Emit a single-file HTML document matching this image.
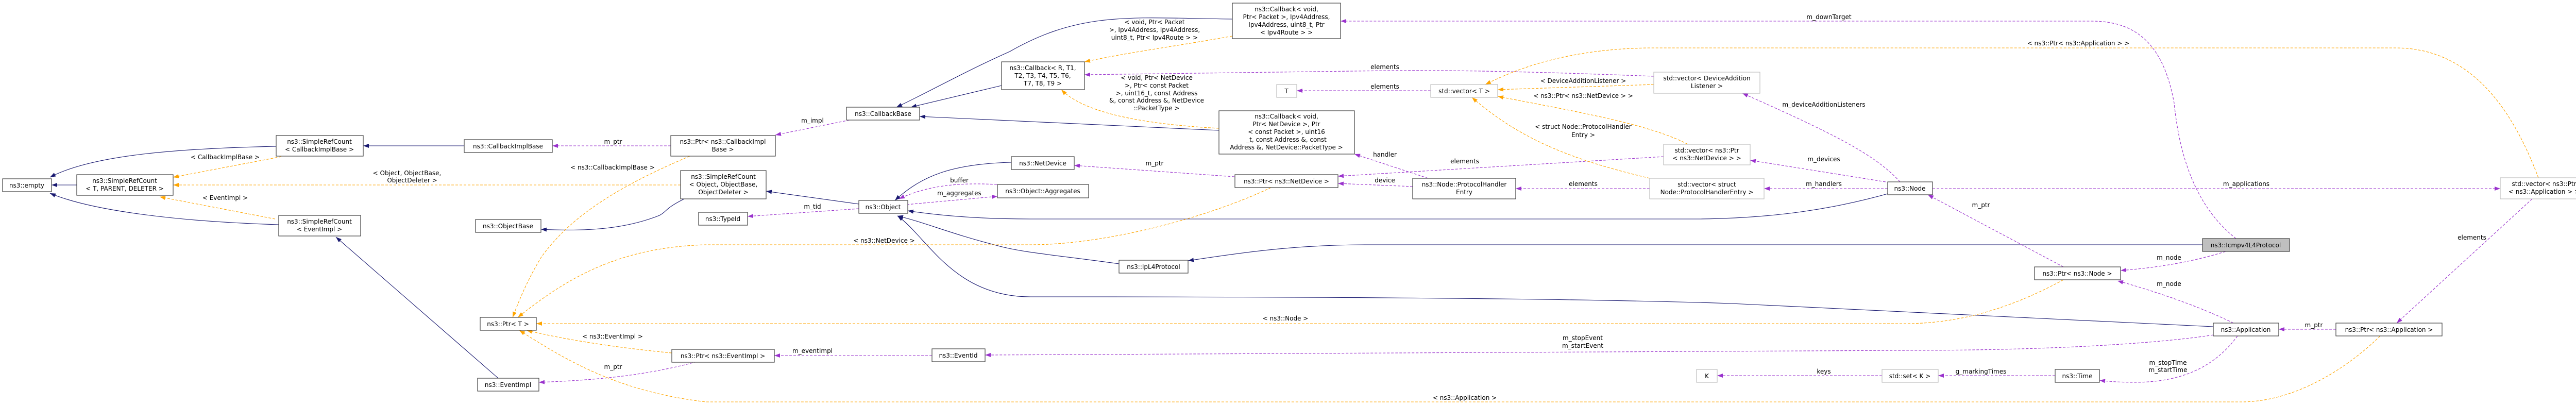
<!DOCTYPE html>
<html><head><meta charset="utf-8"><style>
html,body{margin:0;padding:0;background:#fff;}
svg{display:block;}
text{font-family:"DejaVu Sans","Liberation Sans",sans-serif;font-size:12px;fill:#000;}
.n{fill:#fff;stroke:#404040;stroke-width:1.2;}
.g{fill:#fff;stroke:#bfbfbf;stroke-width:1.2;}
.b{fill:none;stroke:#191970;stroke-width:1.1;}
.p{fill:none;stroke:#9a32cd;stroke-width:1.1;stroke-dasharray:5,3;}
.o{fill:none;stroke:#ffa500;stroke-width:1.1;stroke-dasharray:5,3;}
</style></head><body>
<svg width="5029" height="786" viewBox="0 0 5029 786" xmlns="http://www.w3.org/2000/svg">
<defs>
<marker id="mb" markerUnits="userSpaceOnUse" markerWidth="11" markerHeight="8" refX="11" refY="4" orient="auto"><path d="M0,0 L11,4 L0,8 z" fill="#191970"/></marker>
<marker id="mp" markerUnits="userSpaceOnUse" markerWidth="11" markerHeight="8" refX="11" refY="4" orient="auto"><path d="M0,0 L11,4 L0,8 z" fill="#9a32cd"/></marker>
<marker id="mo" markerUnits="userSpaceOnUse" markerWidth="11" markerHeight="8" refX="11" refY="4" orient="auto"><path d="M0,0 L11,4 L0,8 z" fill="#ffa500"/></marker>
</defs>

<!-- blue inheritance edges -->
<g marker-end="url(#mb)">
<path class="b" d="M536,284 C350,288 180,300 97,344"/>
<path class="b" d="M149,359 L100,359"/>
<path class="b" d="M541,436 C350,430 180,410 97,375"/>
<path class="b" d="M901,283 L705,283"/>
<path class="b" d="M967,734 L652,460"/>
<path class="b" d="M1667,396 L1487,371"/>
<path class="b" d="M1328,386 C1290,405 1295,410 1280,418 C1220,442 1150,450 1050,445"/>
<path class="b" d="M1944,166 L1768,208"/>
<path class="b" d="M2392,37 C2200,35 2100,20 1960,100 C1870,140 1800,180 1740,208"/>
<path class="b" d="M2366,253 L1785,226"/>
<path class="b" d="M1963,315 C1850,318 1790,340 1737,389"/>
<path class="b" d="M3664,376 C3560,405 3450,423 3300,425 L2000,425 C1900,425 1820,418 1762,409"/>
<path class="b" d="M2172,512 C2050,495 1980,490 1930,475 C1850,455 1790,430 1742,419"/>
<path class="b" d="M4275,475 L2650,475 C2500,475 2380,495 2306,506"/>
<path class="b" d="M4296,634 L3360,589 C3000,577 2400,576 2000,576 C1850,576 1800,460 1742,419"/>
</g>

<!-- purple member edges -->
<g marker-end="url(#mp)">
<path class="p" d="M1302,283 L1072,283"/>
<path class="p" d="M1649,233 L1505,262"/>
<path class="p" d="M1667,405 L1451,420"/>
<path class="p" d="M1760,397 L1936,381"/>
<path class="p" d="M1935,358 C1860,354 1800,360 1745,386"/>
<path class="p" d="M2396,343 L2085,321"/>
<path class="p" d="M1352,702 C1250,730 1150,738 1046,742"/>
<path class="p" d="M1809,690 L1503,690"/>
<path class="p" d="M4296,650 C4200,665 4000,680 3700,680 L1912,689"/>
<path class="p" d="M4340,463 C4260,400 4230,300 4220,200 C4200,90 4150,41 4060,41 L2602,41"/>
<path class="p" d="M2777,176 L2517,176"/>
<path class="p" d="M3210,148 C3000,140 2850,136 2700,137 L2105,145"/>
<path class="p" d="M2772,346 L2629,299"/>
<path class="p" d="M2742,362 L2597,356"/>
<path class="p" d="M3229,304 L2597,342"/>
<path class="p" d="M3202,366 L2942,366"/>
<path class="p" d="M3688,353 C3640,300 3560,260 3382,181"/>
<path class="p" d="M3660,353 L3397,311"/>
<path class="p" d="M3664,366 L3424,366"/>
<path class="p" d="M3751,366 L4853,366"/>
<path class="p" d="M4005,518 L3742,378"/>
<path class="p" d="M4320,488 C4250,510 4180,520 4116,525"/>
<path class="p" d="M4335,627 C4280,600 4200,570 4110,545"/>
<path class="p" d="M4534,639 L4423,639"/>
<path class="p" d="M4915,386 L4652,627"/>
<path class="p" d="M3989,729 L3762,729"/>
<path class="p" d="M3653,729 L3333,729"/>
<path class="p" d="M4343,652 C4300,710 4240,740 4150,742 C4110,742 4090,740 4075,738"/>
</g>

<!-- orange template edges -->
<g marker-end="url(#mo)">
<path class="o" d="M546,304 L336,344"/>
<path class="o" d="M534,425 L310,382"/>
<path class="o" d="M1321,359 L336,359"/>
<path class="o" d="M1339,303 C1180,370 1100,430 1050,500 C1020,550 1005,590 995,616"/>
<path class="o" d="M2467,364 C2350,420 2150,475 2000,475 L1370,475 C1200,480 1100,540 1005,616"/>
<path class="o" d="M4005,543 C3900,600 3800,628 3700,628 L1041,628"/>
<path class="o" d="M1304,685 C1200,675 1100,660 1022,641"/>
<path class="o" d="M4620,652 C4550,720 4450,780 4350,780 L1370,780 C1200,760 1100,700 1008,641"/>
<path class="o" d="M2392,70 C2250,95 2200,100 2105,120"/>
<path class="o" d="M2366,249 C2200,240 2100,215 2060,174"/>
<path class="o" d="M3210,164 L2907,174"/>
<path class="o" d="M3276,280 C3200,240 3050,215 2907,187"/>
<path class="o" d="M3202,346 C3050,310 2950,270 2857,189"/>
<path class="o" d="M4927,345 C4880,220 4800,93 4650,93 L3200,93 C3050,95 2950,130 2883,164"/>
</g>

<!-- edge labels -->
<g text-anchor="middle">
<text x="437" y="309">&lt; CallbackImplBase &gt;</text>
<text x="437" y="388">&lt; EventImpl &gt;</text>
<text x="790" y="340">&lt; Object, ObjectBase,</text>
<text x="800" y="354">ObjectDeleter &gt;</text>
<text x="1189" y="329">&lt; ns3::CallbackImplBase &gt;</text>
<text x="1190" y="279">m_ptr</text>
<text x="1577" y="238">m_impl</text>
<text x="1577" y="405">m_tid</text>
<text x="1716" y="471">&lt; ns3::NetDevice &gt;</text>
<text x="1189" y="657">&lt; ns3::EventImpl &gt;</text>
<text x="1190" y="716">m_ptr</text>
<text x="1577" y="685">m_eventImpl</text>
<text x="1862" y="354">buffer</text>
<text x="1862" y="379">m_aggregates</text>
<text x="2241" y="321">m_ptr</text>
<text x="2241" y="47">&lt; void, Ptr&lt; Packet</text>
<text x="2241" y="62">&gt;, Ipv4Address, Ipv4Address,</text>
<text x="2241" y="77">uint8_t, Ptr&lt; Ipv4Route &gt; &gt;</text>
<text x="2245" y="155">&lt; void, Ptr&lt; NetDevice</text>
<text x="2245" y="170">&gt;, Ptr&lt; const Packet</text>
<text x="2245" y="185">&gt;, uint16_t, const Address</text>
<text x="2245" y="199">&amp;, const Address &amp;, NetDevice</text>
<text x="2245" y="214">::PacketType &gt;</text>
<text x="2495" y="622">&lt; ns3::Node &gt;</text>
<text x="2688" y="134">elements</text>
<text x="2688" y="172">elements</text>
<text x="2688" y="304">handler</text>
<text x="2688" y="354">device</text>
<text x="2843" y="317">elements</text>
<text x="3073" y="361">elements</text>
<text x="3073" y="161">&lt; DeviceAdditionListener &gt;</text>
<text x="3073" y="190">&lt; ns3::Ptr&lt; ns3::NetDevice &gt; &gt;</text>
<text x="3073" y="250">&lt; struct Node::ProtocolHandler</text>
<text x="3073" y="266">Entry &gt;</text>
<text x="3072" y="660">m_stopEvent</text>
<text x="3072" y="675">m_startEvent</text>
<text x="2843" y="776">&lt; ns3::Application &gt;</text>
<text x="3550" y="37">m_downTarget</text>
<text x="4034" y="88">&lt; ns3::Ptr&lt; ns3::Application &gt; &gt;</text>
<text x="3540" y="207">m_deviceAdditionListeners</text>
<text x="3540" y="313">m_devices</text>
<text x="3540" y="361">m_handlers</text>
<text x="3845" y="402">m_ptr</text>
<text x="4360" y="361">m_applications</text>
<text x="4210" y="504">m_node</text>
<text x="4210" y="555">m_node</text>
<text x="4491" y="635">m_ptr</text>
<text x="4798" y="465">elements</text>
<text x="3845" y="725">g_markingTimes</text>
<text x="3540" y="725">keys</text>
<text x="4208" y="708">m_stopTime</text>
<text x="4208" y="722">m_startTime</text>
</g>

<!-- nodes -->
<g text-anchor="middle">
<rect class="n" x="5" y="347" width="95" height="25"/><text x="52" y="364">ns3::empty</text>
<rect class="n" x="149" y="339" width="187" height="40"/><text x="242" y="355">ns3::SimpleRefCount</text><text x="242" y="370">&lt; T, PARENT, DELETER &gt;</text>
<rect class="n" x="536" y="263" width="169" height="40"/><text x="620" y="279">ns3::SimpleRefCount</text><text x="620" y="294">&lt; CallbackImplBase &gt;</text>
<rect class="n" x="541" y="418" width="159" height="40"/><text x="620" y="434">ns3::SimpleRefCount</text><text x="620" y="449">&lt; EventImpl &gt;</text>
<rect class="n" x="901" y="271" width="171" height="25"/><text x="986" y="288">ns3::CallbackImplBase</text>
<rect class="n" x="1302" y="263" width="203" height="40"/><text x="1403" y="279">ns3::Ptr&lt; ns3::CallbackImpl</text><text x="1403" y="294">Base &gt;</text>
<rect class="n" x="1321" y="331" width="166" height="55"/><text x="1404" y="347">ns3::SimpleRefCount</text><text x="1404" y="362">&lt; Object, ObjectBase,</text><text x="1404" y="377">ObjectDeleter &gt;</text>
<rect class="n" x="923" y="426" width="127" height="25"/><text x="986" y="443">ns3::ObjectBase</text>
<rect class="n" x="1356" y="412" width="95" height="25"/><text x="1403" y="429">ns3::TypeId</text>
<rect class="n" x="932" y="616" width="109" height="25"/><text x="986" y="633">ns3::Ptr&lt; T &gt;</text>
<rect class="n" x="1304" y="678" width="199" height="25"/><text x="1403" y="695">ns3::Ptr&lt; ns3::EventImpl &gt;</text>
<rect class="n" x="927" y="734" width="119" height="25"/><text x="986" y="751">ns3::EventImpl</text>
<rect class="n" x="1643" y="208" width="142" height="25"/><text x="1714" y="225">ns3::CallbackBase</text>
<rect class="n" x="1944" y="120" width="161" height="54"/><text x="2024" y="136">ns3::Callback&lt; R, T1,</text><text x="2024" y="151">T2, T3, T4, T5, T6,</text><text x="2024" y="166">T7, T8, T9 &gt;</text>
<rect class="n" x="2392" y="6" width="210" height="69"/><text x="2497" y="22">ns3::Callback&lt; void,</text><text x="2497" y="37">Ptr&lt; Packet &gt;, Ipv4Address,</text><text x="2497" y="52">Ipv4Address, uint8_t, Ptr</text><text x="2497" y="67">&lt; Ipv4Route &gt; &gt;</text>
<rect class="n" x="2366" y="215" width="263" height="84"/><text x="2497" y="230">ns3::Callback&lt; void,</text><text x="2497" y="245">Ptr&lt; NetDevice &gt;, Ptr</text><text x="2497" y="260">&lt; const Packet &gt;, uint16</text><text x="2497" y="275">_t, const Address &amp;, const</text><text x="2497" y="290">Address &amp;, NetDevice::PacketType &gt;</text>
<rect class="n" x="1963" y="304" width="122" height="25"/><text x="2024" y="321">ns3::NetDevice</text>
<rect class="n" x="1936" y="358" width="177" height="26"/><text x="2024" y="375">ns3::Object::Aggregates</text>
<rect class="n" x="1667" y="389" width="95" height="25"/><text x="1714" y="406">ns3::Object</text>
<rect class="n" x="2172" y="505" width="134" height="25"/><text x="2239" y="522">ns3::IpL4Protocol</text>
<rect class="n" x="1809" y="677" width="103" height="25"/><text x="1860" y="694">ns3::EventId</text>
<rect class="n" x="2397" y="339" width="200" height="25"/><text x="2497" y="356">ns3::Ptr&lt; ns3::NetDevice &gt;</text>
<rect class="g" x="2478" y="164" width="39" height="25"/><text x="2497" y="181">T</text>
<rect class="g" x="2777" y="164" width="130" height="25"/><text x="2842" y="181">std::vector&lt; T &gt;</text>
<rect class="n" x="2742" y="346" width="200" height="40"/><text x="2842" y="362">ns3::Node::ProtocolHandler</text><text x="2842" y="377">Entry</text>
<rect class="g" x="3210" y="140" width="206" height="41"/><text x="3313" y="156">std::vector&lt; DeviceAddition</text><text x="3313" y="171">Listener &gt;</text>
<rect class="g" x="3229" y="280" width="168" height="40"/><text x="3313" y="296">std::vector&lt; ns3::Ptr</text><text x="3313" y="311">&lt; ns3::NetDevice &gt; &gt;</text>
<rect class="g" x="3202" y="346" width="222" height="40"/><text x="3313" y="362">std::vector&lt; struct</text><text x="3313" y="377">Node::ProtocolHandlerEntry &gt;</text>
<rect class="g" x="3293" y="717" width="40" height="25"/><text x="3313" y="734">K</text>
<rect class="n" x="3664" y="353" width="87" height="25"/><text x="3707" y="370">ns3::Node</text>
<rect class="n" x="3949" y="518" width="167" height="25"/><text x="4032" y="535">ns3::Ptr&lt; ns3::Node &gt;</text>
<rect class="g" x="3653" y="717" width="109" height="25"/><text x="3707" y="734">std::set&lt; K &gt;</text>
<rect class="n" x="3989" y="717" width="86" height="25"/><text x="4032" y="734">ns3::Time</text>
<rect x="4275" y="463" width="169" height="25" fill="#bfbfbf" stroke="#404040" stroke-width="1.2"/><text x="4359" y="480">ns3::Icmpv4L4Protocol</text>
<rect class="g" x="4853" y="345" width="171" height="41"/><text x="4938" y="361">std::vector&lt; ns3::Ptr</text><text x="4938" y="376">&lt; ns3::Application &gt; &gt;</text>
<rect class="n" x="4296" y="627" width="127" height="25"/><text x="4359" y="644">ns3::Application</text>
<rect class="n" x="4534" y="627" width="206" height="25"/><text x="4637" y="644">ns3::Ptr&lt; ns3::Application &gt;</text>
</g>
</svg>
</body></html>
